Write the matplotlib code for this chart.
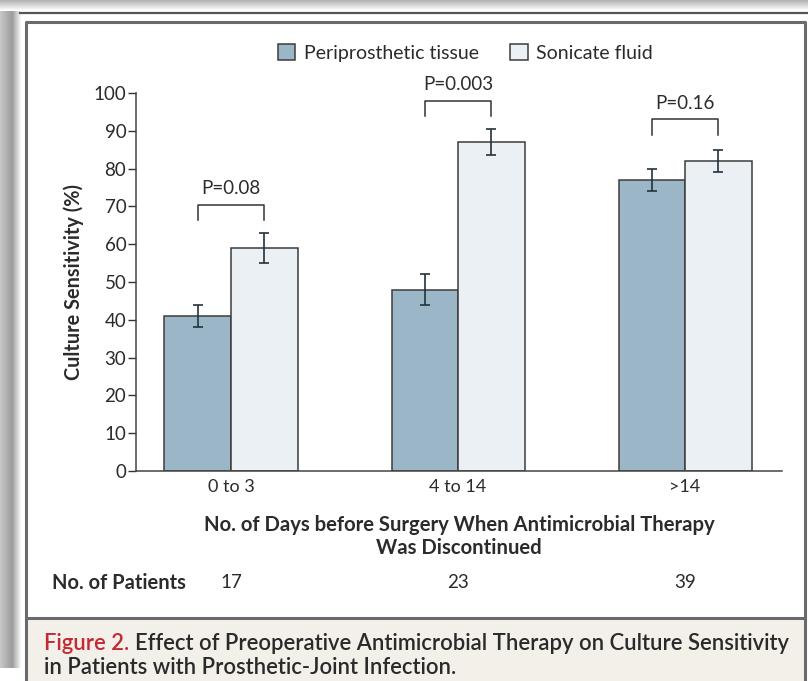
import matplotlib
matplotlib.use("Agg")
import matplotlib.pyplot as plt
from matplotlib.patches import Rectangle
import numpy as np

plt.rcParams["font.family"] = ["Lato", "DejaVu Sans"]

# data
categories = ["0 to 3", "4 to 14", ">14"]
tissue = [41, 48, 77]
tissue_err = [3, 4, 3]
sonicate = [59, 87, 82]
sonicate_err = [4, 3.5, 3]
patients = [17, 23, 39]
p_labels = ["P=0.08", "P=0.003", "P=0.16"]
bracket_top = [70.5, 98, 93]
bracket_leg = [66.5, 94, 89]

C_TISSUE = "#9bb6c6"
C_SONIC = "#ebf0f4"
EDGE = "#3c3c3c"
TXT = "#2b2b2b"

W, H = 808, 681
fig = plt.figure(figsize=(W / 100, H / 100), dpi=100)
fig.patch.set_facecolor("white")

# page frame, shadow and caption band (pixel coords)
bg = fig.add_axes([0, 0, 1, 1], zorder=-10)
bg.set_xlim(0, W)
bg.set_ylim(H, 0)
bg.axis("off")
grad = np.concatenate([np.linspace(0.78, 0.62, 12), np.linspace(0.62, 1.0, 10)])
bg.imshow(np.tile(grad, (2, 1)), cmap="gray", vmin=0, vmax=1,
          extent=(0, 22, 668, 0), aspect="auto")
tgrad = np.linspace(0.7, 1.0, 11)
bg.imshow(np.tile(tgrad, (2, 1)).T, cmap="gray", vmin=0, vmax=1,
          extent=(0, W, 11, 0), aspect="auto")
bg.plot([20, W], [13, 13], color="#555555", lw=1.6)
bg.add_patch(Rectangle((26, 618), 779, 70, facecolor="#f3f0ea", edgecolor="none"))
bg.plot([26, 26, 805, 805], [H, 21.5, 21.5, H], color="#6a6a6a", lw=2.2)
bg.plot([26, 805], [618, 618], color="#6a6a6a", lw=2.2)

ax = fig.add_axes([136 / W, 1 - 471 / H, (782 - 136) / W, (471 - 93) / H])
x = np.arange(len(categories))
bw = 0.293
ekw = dict(ecolor="#24323c", elinewidth=1.2, capsize=3.7, capthick=1.2)
ax.bar(x - bw / 2, tissue, bw, color=C_TISSUE, edgecolor=EDGE, lw=1.1,
       yerr=tissue_err, error_kw=ekw, label="Periprosthetic tissue")
ax.bar(x + bw / 2, sonicate, bw, color=C_SONIC, edgecolor=EDGE, lw=1.1,
       yerr=sonicate_err, error_kw=ekw, label="Sonicate fluid")

for i in range(len(categories)):
    xl, xr = x[i] - bw / 2, x[i] + bw / 2
    ax.plot([xl, xl, xr, xr], [bracket_leg[i], bracket_top[i], bracket_top[i], bracket_leg[i]],
            color="#333333", lw=1.1, clip_on=False)
    ax.text(x[i], bracket_top[i] + 2.0, p_labels[i], ha="center", va="bottom",
            fontsize=13.5, color=TXT, clip_on=False)

ax.set_xlim(-0.4185, 2.427)
ax.set_ylim(0, 100)
ax.set_yticks(range(0, 101, 10))
ax.set_xticks(x)
ax.set_xticklabels(categories)
ax.tick_params(axis="y", length=6, width=1, color="#333333", labelsize=13.5, labelcolor=TXT, pad=1)
ax.tick_params(axis="x", length=0, labelsize=13, labelcolor=TXT, pad=6)
for s in ["top", "right"]:
    ax.spines[s].set_visible(False)
for s in ["left", "bottom"]:
    ax.spines[s].set_color("#444444")
    ax.spines[s].set_linewidth(1.1)

ax.set_ylabel("Culture Sensitivity (%)", fontsize=14.3, fontweight="bold", color=TXT, labelpad=7)
ax.set_xlabel("No. of Days before Surgery When Antimicrobial Therapy\nWas Discontinued",
              fontsize=14.6, fontweight="bold", color=TXT, labelpad=14, linespacing=1.2)

leg = ax.legend(loc="center", bbox_to_anchor=(0.51, 1 + (93 - 53) / 378), ncol=2, frameon=False,
                fontsize=14, handlelength=0.9, handleheight=0.9, handletextpad=0.45,
                columnspacing=1.6, labelcolor=TXT)

# number of patients row
fig.text(52 / W, 1 - 583 / H, "No. of Patients", fontsize=14.5, fontweight="bold",
         color=TXT, va="center", ha="left")
for i, n in enumerate(patients):
    xp = ax.transData.transform((x[i], 0))[0] / W
    fig.text(xp, 1 - 583 / H, str(n), fontsize=13.5, color=TXT, va="center", ha="center")

# caption
fig.canvas.draw()
r = fig.canvas.get_renderer()
t1 = fig.text(44 / W, 1 - 643 / H, "Figure 2.", fontsize=15.8, fontweight="semibold",
              color="#c42a35", va="center", ha="left")
x2 = t1.get_window_extent(r).x1 + 6
fig.text(x2 / W, 1 - 643 / H,
         "Effect of Preoperative Antimicrobial Therapy on Culture Sensitivity",
         fontsize=15.8, fontweight="semibold", color="#2a2a2a", va="center", ha="left")
fig.text(44 / W, 1 - 668 / H, "in Patients with Prosthetic-Joint Infection.",
         fontsize=15.8, fontweight="semibold", color="#2a2a2a", va="center", ha="left")

fig.savefig("out.png", dpi=100)
